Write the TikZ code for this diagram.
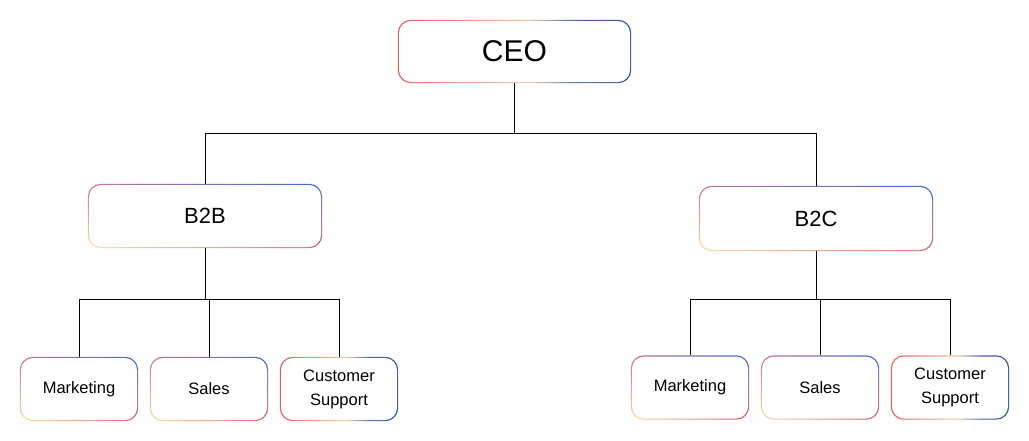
\documentclass[tikz,border=0pt]{standalone}
\usepackage{fontspec}
\setmainfont{Liberation Sans}
\usetikzlibrary{backgrounds,shadings}
\pgfdeclarelayer{bottom}
\pgfsetlayers{bottom,background,main}
\definecolor{cred}{HTML}{E45B5B}
\definecolor{cpeach}{HTML}{F2C9A4}
\definecolor{cblue}{HTML}{4A64A8}
\definecolor{cdblue}{HTML}{34508F}
\definecolor{cpurp}{HTML}{C2729C}
\definecolor{cbright}{HTML}{3F6FC9}
\definecolor{cyel}{HTML}{F7E2A0}
\definecolor{cpink}{HTML}{DC5E6E}
\pgfdeclarehorizontalshading{gradA}{100bp}{color(0bp)=(cred); color(25bp)=(cred); color(53bp)=(cpeach); color(63bp)=(cblue); color(75bp)=(cdblue); color(100bp)=(cdblue)}
\newcommand\gborder[2]{%
  \begin{pgfonlayer}{background}
    \shade[rounded corners=13pt,#2] (#1.south west) rectangle (#1.north east);
    \fill[white, rounded corners=12pt] ([xshift=1.2pt,yshift=1.2pt]#1.south west) rectangle ([xshift=-1.2pt,yshift=-1.2pt]#1.north east);
  \end{pgfonlayer}}
\begin{document}
\begin{tikzpicture}[x=1pt,y=-1pt,
  box/.style={rectangle, inner sep=0pt, align=center, text=black},
  big/.style={box, minimum width=233pt, minimum height=63pt, font=\fontsize{30}{36}\selectfont},
  mid/.style={box, minimum width=234pt, minimum height=64pt, font=\fontsize{22}{26}\selectfont},
  small/.style={box, minimum width=118pt, minimum height=64pt, font=\fontsize{16.5}{24}\selectfont},
  typeA/.style={shading=gradA},
  typeB/.style={upper left=cpurp, upper right=cbright, lower left=cyel, lower right=cpink},
  conn/.style={draw=black, line width=0.8pt}]
\begin{pgfonlayer}{bottom}
\fill[white] (0,0) rectangle (1029,440);
\end{pgfonlayer}
\useasboundingbox (0,0) rectangle (1029,440);

\node[big] (ceo) at (514.5,51.5) {CEO};
\node[mid] (b2b) at (205,216) {B2B};
\node[mid, minimum height=65pt] (b2c) at (816,218.5) {B2C};

\node[small] (lm) at (79,389) {Marketing};
\node[small] (ls) at (209,389) {Sales};
\node[small] (lc) at (339,389) {Customer\\Support};

\node[small] (rm) at (690,387.5) {Marketing};
\node[small] (rs) at (820,387.5) {Sales};
\node[small] (rc) at (950,387.5) {Customer\\Support};

\gborder{ceo}{typeA}
\gborder{lc}{typeA}
\gborder{rc}{typeA}
\gborder{b2b}{typeB}
\gborder{b2c}{typeB}
\gborder{lm}{typeB}
\gborder{ls}{typeB}
\gborder{rm}{typeB}
\gborder{rs}{typeB}

\coordinate (j0) at (514.5,133);
\coordinate (j1) at (205,299);
\coordinate (j2) at (816,299);

\draw[conn] (ceo.south) -- (j0);
\draw[conn] (b2b.north) |- (j0);
\draw[conn] (b2c.north) |- (j0);

\draw[conn] (b2b.south) -- (j1);
\draw[conn] (lm.north) |- (j1);
\draw[conn] (ls.north) |- (j1);
\draw[conn] (lc.north) |- (j1);

\draw[conn] (b2c.south) -- (j2);
\draw[conn] (rm.north) |- (j2);
\draw[conn] (rs.north) |- (j2);
\draw[conn] (rc.north) |- (j2);
\end{tikzpicture}
\end{document}
